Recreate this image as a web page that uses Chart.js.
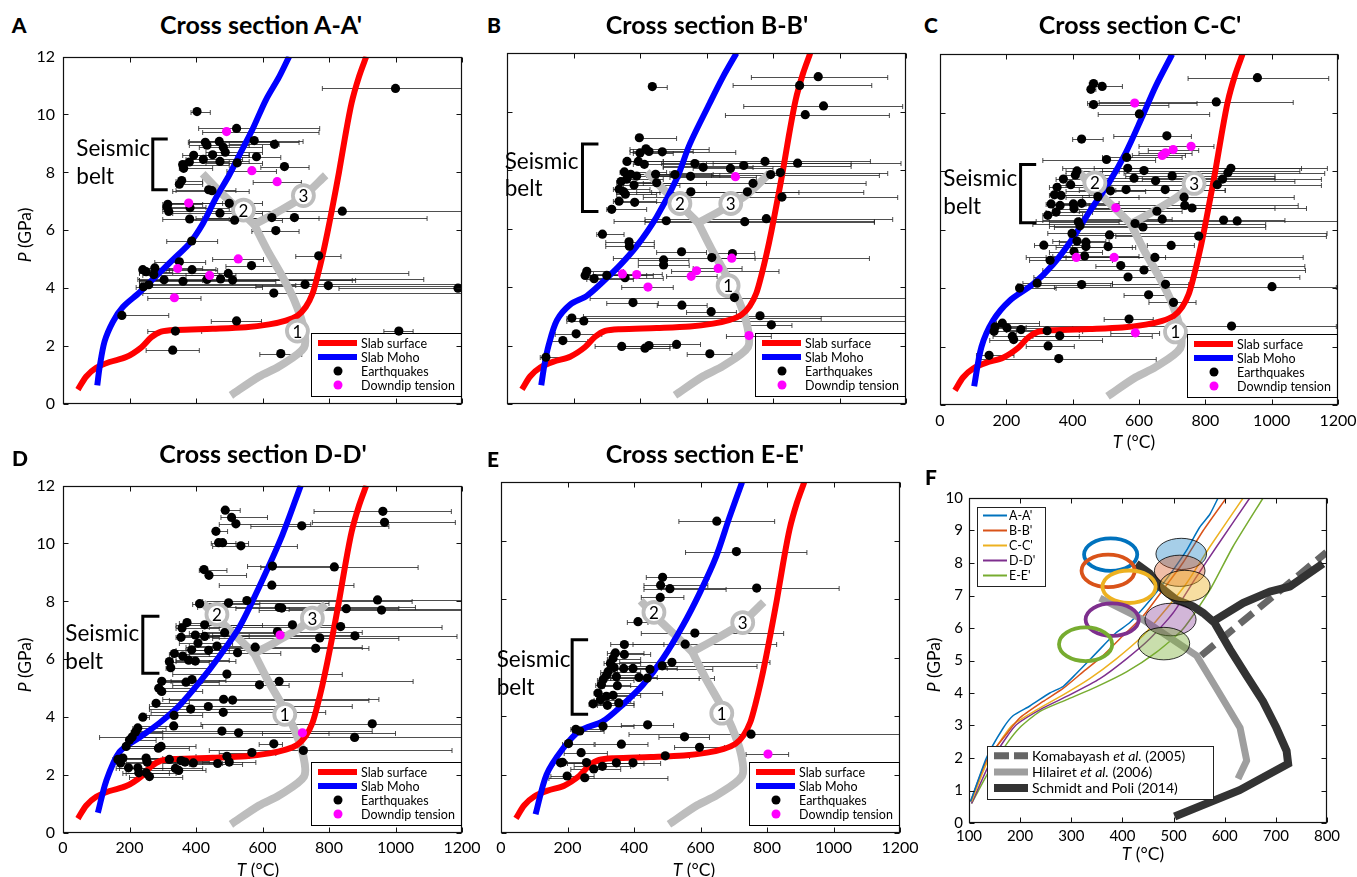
<!DOCTYPE html>
<html><head><meta charset="utf-8">
<script src="https://cdn.jsdelivr.net/npm/chart.js@4.4.1/dist/chart.umd.min.js"></script>
<style>
html,body{margin:0;padding:0;background:#fff;}
body{width:1357px;height:877px;overflow:hidden;position:relative;font-family:Lato,'DejaVu Sans',sans-serif;color:#000;}
canvas{position:absolute;}
.t{position:absolute;white-space:nowrap;line-height:1;transform:translate(-50%,-50%);}
.ttl{font-weight:bold;font-size:25px;}
.let{font-weight:900;font-size:21px;}
.ax{font-size:17.5px;}
.rot{transform:translate(-50%,-50%) rotate(-90deg);}
</style></head>
<body>
<canvas id="cA"></canvas><canvas id="cB"></canvas><canvas id="cC"></canvas>
<canvas id="cD"></canvas><canvas id="cE"></canvas><canvas id="cF"></canvas>

<div class="t let" style="left:19px;top:24px">A</div>
<div class="t let" style="left:494px;top:24px">B</div>
<div class="t let" style="left:931px;top:24px">C</div>
<div class="t let" style="left:20px;top:457px">D</div>
<div class="t let" style="left:493px;top:458px">E</div>
<div class="t let" style="left:931px;top:476px">F</div>

<div class="t ttl" style="left:261px;top:24px">Cross section A-A'</div>
<div class="t ttl" style="left:707px;top:24px">Cross section B-B'</div>
<div class="t ttl" style="left:1140px;top:24px">Cross section C-C'</div>
<div class="t ttl" style="left:263px;top:453px">Cross section D-D'</div>
<div class="t ttl" style="left:705px;top:453px">Cross section E-E'</div>

<div class="t ax rot" style="left:25px;top:235px"><i>P</i> (GPa)</div>
<div class="t ax rot" style="left:25px;top:665px"><i>P</i> (GPa)</div>
<div class="t ax rot" style="left:934px;top:665px"><i>P</i> (GPa)</div>
<div class="t ax" style="left:1134px;top:442px"><i>T</i> (°C)</div>
<div class="t ax" style="left:258px;top:870px"><i>T</i> (°C)</div>
<div class="t ax" style="left:694px;top:870px"><i>T</i> (°C)</div>
<div class="t ax" style="left:1143px;top:854px"><i>T</i> (°C)</div>

<script>
// ---------- tick labels ----------
const tempTicks = [0,200,400,600,800,1000,1200];
const presTicks = [0,2,4,6,8,10,12];
const fTempTicks = [100,200,300,400,500,600,700,800];
const fPresTicks = [0,1,2,3,4,5,6,7,8,9,10];

// ---------- shared curves (T, P) ----------
const slabSurface = [[45,0.5],[70,0.95],[100,1.25],[140,1.45],[190,1.62],[235,1.95],[265,2.3],[295,2.5],[340,2.56],[450,2.6],[550,2.65],[620,2.75],[670,2.88],[705,3.05],[730,3.35],[750,3.8],[765,4.4],[780,5.1],[795,5.9],[812,6.9],[830,8.0],[848,9.2],[868,10.4],[890,11.3],[912,12]];
const greyMain = [[505,0.3],[590,0.95],[650,1.3],[725,1.95],[722,2.7],[695,3.6],[660,4.4],[615,5.3],[575,6.2]];
const greyBranch2 = [[575,6.2],[530,6.7],[470,7.35],[420,7.95]];
const greyBranch3 = [[575,6.2],[640,6.6],[720,7.15],[790,7.9]];

// ---------- Slab Moho per section ----------
const mohoA = [[103,0.64],[110,1.26],[125,2.16],[150,2.84],[180,3.35],[230,3.85],[290,4.53],[340,5.09],[380,5.54],[420,6.22],[460,7.12],[500,7.91],[530,8.59],[570,9.49],[610,10.5],[650,11.3],[680,12]];
const mohoB = [[103,0.64],[112,1.3],[125,2.0],[150,2.86],[190,3.4],[240,3.7],[290,4.2],[340,4.75],[390,5.4],[450,6.4],[510,7.7],[550,8.9],[610,10.3],[650,11.2],[690,12]];
const mohoC = [[103,0.64],[125,1.99],[160,2.89],[210,3.57],[280,4.13],[340,4.8],[400,5.7],[450,6.6],[510,7.62],[560,8.63],[610,9.87],[650,10.9],[700,12]];
const mohoD = [[105,0.7],[130,1.8],[170,2.8],[230,3.3],[290,3.8],[350,4.4],[410,5.2],[470,6.1],[530,7.1],[590,8.5],[660,10.3],[715,12]];
const mohoE = [[104,0.64],[137,2.0],[187,2.9],[237,3.5],[307,3.83],[367,4.4],[427,5.07],[487,5.97],[547,7.1],[597,8.2],[647,9.46],[687,10.8],[725,12]];

// ---------- numbered labels on grey curves (T, P, label) ----------
const circA = [[705,2.52,'1'],[543,6.7,'2'],[723,7.2,'3']];
const circB = [[665,4.05,'1'],[520,6.86,'2'],[673,6.86,'3']];
const circC = [[710,2.5,'1'],[467,7.6,'2'],[766,7.58,'3']];
const circD = [[667,4.1,'1'],[463,7.55,'2'],[750,7.42,'3']];
const circE = [[664,4.1,'1'],[460,7.55,'2'],[727,7.2,'3']];

// ---------- earthquakes [T, P, Tmin, Tmax] ----------
const eqA = [[1000,10.9,780,1260],[403,10.1,385,443],[522,9.52,408,772],[428,9.04,377,710],[470,9.07,380,640],[575,9.1,420,722],[636,8.97,500,650],[433,8.94,380,560],[482,8.87,410,600],[393,8.59,360,560],[450,8.61,400,560],[488,8.7,430,600],[582,8.54,520,655],[422,8.45,370,540],[380,8.36,365,500],[360,8.27,350,500],[472,8.38,420,560],[524,8.33,430,600],[666,8.2,595,740],[363,8.14,350,450],[357,7.72,340,420],[350,7.59,340,420],[438,7.4,340,520],[448,7.37,330,560],[315,6.9,300,420],[500,6.93,320,600],[382,6.78,320,500],[313,6.8,300,430],[318,6.65,300,520],[840,6.66,510,1260],[472,6.59,330,600],[628,6.44,400,1095],[696,6.44,420,770],[381,6.39,300,500],[516,6.35,380,660],[640,5.99,568,710],[387,5.63,312,465],[769,5.12,700,836],[350,4.91,276,429],[567,4.78,490,645],[276,4.7,240,420],[240,4.64,230,320],[250,4.57,230,330],[388,4.64,310,465],[273,4.47,240,470],[497,4.51,230,1040],[304,4.29,230,420],[361,4.24,230,640],[433,4.3,230,870],[474,4.32,225,1085],[510,4.28,230,880],[242,4.05,220,600],[258,4.12,230,700],[728,4.13,235,1260],[798,4.09,580,1260],[1188,4.0,830,1260],[634,3.83,240,1200],[177,3.06,160,318],[522,2.87,446,597],[338,2.52,255,417],[1010,2.52,965,1053],[330,1.86,250,410],[655,1.74,592,718]];
const dtA = [[492,9.41,420,770],[568,8.06,493,642],[644,7.68,572,717],[378,6.94,310,480],[527,5.01,450,603],[345,4.68,270,460],[441,4.44,370,520],[335,3.67,255,415]];

const eqB = [[936,11.2,735,1145],[880,10.9,680,1097],[437,10.86,430,482],[952,10.2,712,1190],[897,9.9,657,1150],[398,9.11,390,510],[418,8.73,370,608],[400,8.59,380,500],[427,8.64,380,560],[467,8.63,370,688],[361,8.3,350,470],[395,8.3,370,560],[413,8.2,380,600],[565,8.23,465,1035],[590,8.1,470,740],[672,8.06,560,800],[712,8.16,470,1035],[776,8.3,470,1093],[874,8.24,620,1185],[353,7.94,340,480],[372,7.86,350,500],[390,7.8,360,520],[447,7.86,380,620],[505,7.85,420,640],[552,7.79,440,680],[793,7.85,615,1120],[822,7.92,490,1145],[343,7.61,330,460],[360,7.69,340,470],[382,7.49,350,520],[450,7.57,380,600],[740,7.55,410,1080],[337,7.35,320,430],[356,7.18,330,450],[350,7.27,330,460],[553,7.26,390,878],[723,7.26,435,1073],[827,7.08,410,1175],[337,6.94,320,450],[384,6.9,340,520],[315,6.66,300,420],[479,6.27,322,1105],[715,6.24,415,1105],[780,6.34,415,1160],[287,5.81,270,352],[367,5.55,297,443],[368,5.4,297,443],[525,5.21,450,600],[678,5.15,610,745],[616,5.01,320,1090],[471,4.93,395,547],[471,4.76,395,548],[240,4.54,230,350],[235,4.4,230,340],[262,4.29,240,380],[300,4.4,250,420],[355,4.32,250,470],[684,3.64,250,1200],[379,3.47,300,455],[526,3.38,452,602],[614,3.16,540,690],[195,2.94,180,945],[231,2.84,180,1200],[761,3.02,230,1200],[795,2.71,728,857],[208,2.4,145,285],[168,2.17,130,243],[345,1.97,265,490],[415,1.91,345,490],[427,2.0,350,500],[510,2.04,435,582],[610,1.72,542,677],[117,1.6,100,187]];
const dtB = [[687,7.78,490,750],[676,4.99,610,746],[635,4.64,560,707],[570,4.56,495,818],[554,4.37,480,632],[347,4.45,260,467],[390,4.43,310,440],[424,4.0,345,500],[728,2.34,660,795]];

const eqC = [[957,11.2,748,1172],[463,11.0,450,480],[489,10.9,460,550],[455,10.8,445,470],[833,10.37,480,1065],[463,10.28,450,690],[601,9.96,477,813],[427,9.1,400,492],[684,9.21,524,758],[502,8.4,310,650],[563,8.47,490,730],[566,8.1,370,1090],[615,8.02,490,1085],[413,8.01,380,540],[408,7.87,380,520],[372,7.73,350,480],[585,7.76,490,1010],[650,7.67,500,1070],[700,7.84,560,1010],[877,8.1,465,1168],[868,7.95,555,1160],[852,7.73,610,1150],[836,7.54,380,1150],[394,7.54,360,500],[353,7.45,330,460],[514,7.33,380,620],[561,7.37,420,860],[679,7.37,530,860],[476,7.13,380,600],[345,7.19,330,450],[365,7.17,340,480],[736,7.11,430,1068],[738,6.83,450,1080],[760,6.74,460,1105],[335,6.88,320,440],[362,6.83,330,470],[402,6.88,340,520],[427,6.9,360,540],[404,6.72,340,520],[325,6.49,310,430],[350,6.6,320,460],[654,6.63,420,730],[670,6.36,420,700],[855,6.33,310,1040],[896,6.3,290,1200],[588,6.21,280,982],[417,6.27,330,540],[422,6.13,330,620],[612,6.09,345,982],[398,5.87,325,1167],[511,5.82,390,600],[780,5.78,530,1165],[313,5.47,285,430],[413,5.61,340,500],[440,5.57,360,510],[440,5.42,350,590],[507,5.42,400,580],[697,5.46,625,767],[404,5.25,330,490],[332,4.95,270,520],[436,5.1,340,600],[648,5.05,320,1095],[545,4.77,470,1100],[615,4.62,310,1102],[567,4.38,283,1085],[293,4.17,250,520],[240,4.0,230,350],[427,4.12,235,515],[680,4.13,520,750],[1001,4.05,345,1195],[629,3.77,555,698],[704,3.51,630,772],[570,2.94,495,643],[879,2.7,175,1195],[188,2.8,170,300],[166,2.67,150,260],[202,2.64,170,400],[244,2.58,200,420],[163,2.52,150,250],[323,2.54,230,430],[361,2.37,280,640],[218,2.35,160,420],[222,2.24,150,490],[326,2.02,260,405],[148,1.7,110,223],[358,1.59,110,652]];
const dtC = [[587,10.33,445,775],[757,8.85,600,826],[703,8.74,628,780],[680,8.63,600,760],[670,8.54,580,740],[530,6.75,450,1010],[411,5.05,260,520],[525,5.05,380,680],[589,2.47,515,662]];

const eqD = [[488,11.15,480,533],[507,10.9,475,615],[520,10.68,470,745],[718,10.61,565,980],[962,11.11,755,1168],[967,10.73,750,1180],[460,10.42,450,495],[468,10.03,446,558],[480,10.03,460,520],[535,9.92,450,705],[424,9.1,410,493],[439,8.9,430,552],[630,9.22,555,815],[816,9.19,595,1068],[628,8.56,470,875],[411,7.92,390,592],[498,7.95,400,800],[553,8.03,420,1050],[946,8.05,570,1200],[650,7.79,405,1060],[658,7.77,520,1010],[852,7.75,680,1200],[958,7.7,590,1200],[373,7.27,350,480],[358,7.08,340,470],[426,7.19,340,600],[690,7.19,430,815],[835,7.13,440,1140],[645,6.96,420,900],[355,6.76,340,470],[398,6.84,350,520],[426,6.79,360,560],[486,6.92,380,650],[406,6.56,350,510],[772,6.74,450,1010],[878,6.81,440,1185],[463,6.46,380,560],[387,6.33,340,500],[438,6.31,370,560],[578,6.42,370,900],[760,6.38,460,920],[335,6.2,320,440],[525,6.23,380,655],[360,6.11,330,470],[320,5.92,310,440],[378,5.97,340,500],[398,5.94,340,520],[324,5.71,310,440],[493,5.49,330,840],[297,5.24,290,420],[370,5.21,300,470],[388,5.3,300,490],[650,5.24,325,1053],[288,5.0,280,400],[297,4.89,285,420],[591,5.12,330,680],[280,4.48,270,380],[483,4.62,300,950],[510,4.59,320,920],[384,4.28,260,690],[437,4.37,260,870],[482,4.17,265,790],[334,4.06,250,420],[240,4.0,230,260],[333,3.7,225,420],[930,3.77,415,1200],[225,3.63,210,310],[218,3.49,205,300],[478,3.52,210,930],[528,3.46,220,1000],[208,3.32,200,300],[200,3.21,195,280],[877,3.3,110,1200],[190,2.99,180,280],[287,2.93,180,380],[295,2.99,200,400],[634,3.08,590,660],[568,2.78,470,640],[723,2.85,440,1170],[165,2.54,150,260],[180,2.59,160,300],[250,2.59,190,340],[320,2.54,240,400],[355,2.5,260,440],[493,2.65,400,560],[173,2.42,150,260],[253,2.45,190,340],[367,2.45,280,460],[392,2.42,300,480],[465,2.4,380,540],[500,2.45,420,580],[197,2.25,160,300],[225,2.25,170,330],[338,2.23,250,420],[348,2.16,260,430],[228,2.08,180,320],[250,2.08,190,340],[260,1.95,200,360]];
const dtD = [[653,6.84,450,880],[720,3.46,600,800]];

const eqE = [[649,10.67,535,823],[708,9.63,555,920],[486,8.75,437,625],[480,8.48,430,622],[508,8.36,430,677],[769,8.38,482,1017],[479,8.06,422,550],[412,7.23,380,442],[583,6.84,422,850],[554,6.46,397,829],[371,6.45,330,490],[344,6.16,320,430],[371,6.11,330,450],[337,5.97,320,420],[329,5.8,310,420],[514,5.84,357,809],[485,5.72,370,770],[340,5.66,320,450],[369,5.63,330,500],[397,5.63,340,530],[448,5.6,350,637],[322,5.52,300,420],[317,5.39,300,410],[347,5.35,310,470],[415,5.32,330,596],[440,5.3,330,642],[307,5.24,290,400],[302,5.07,285,390],[350,5.04,310,420],[292,4.79,280,486],[317,4.68,290,400],[337,4.71,300,420],[299,4.56,280,390],[277,4.42,265,330],[354,4.45,300,400],[320,4.37,290,400],[225,3.55,210,300],[237,3.49,215,310],[307,3.65,260,400],[441,3.7,362,519],[752,3.38,385,1200],[552,3.29,475,627],[203,3.06,185,280],[362,3.04,283,442],[597,2.93,522,672],[241,2.75,190,320],[494,2.64,417,567],[185,2.42,160,270],[179,2.4,160,260],[257,2.41,200,340],[347,2.4,260,430],[397,2.4,300,480],[305,2.28,220,390],[279,2.19,210,360],[199,1.95,150,280],[252,1.89,144,502]];
const dtE = [[803,2.7,737,865]];

// ---------- panel F ----------
const fSections = ["A-A'","B-B'","C-C'","D-D'","E-E'"];
const fA = [[103,0.66],[134,2.0],[166,2.9],[186,3.3],[219,3.6],[258,4.0],[284,4.2],[310,4.6],[350,5.25],[388,5.86],[414,6.16],[444,6.67],[470,7.17],[499,7.78],[525,8.38],[551,9.1],[571,9.5],[587,10]];
const fB = [[103,0.66],[134,1.92],[173,2.73],[199,3.23],[245,3.74],[284,4.14],[323,4.65],[362,5.15],[401,5.76],[440,6.36],[479,7.17],[518,8.0],[558,9.0],[603,10]];
const fC = [[105,0.66],[134,1.82],[166,2.63],[186,3.03],[232,3.48],[284,3.94],[336,4.44],[388,5.05],[440,5.76],[479,6.46],[525,7.37],[571,8.5],[636,10]];
const fD = [[105,0.6],[140,1.82],[173,2.63],[193,3.03],[245,3.54],[297,3.94],[356,4.44],[408,5.05],[453,5.66],[499,6.46],[545,7.58],[584,8.5],[649,10]];
const fE = [[105,0.6],[140,1.62],[173,2.42],[199,2.93],[238,3.43],[290,3.79],[349,4.19],[408,4.65],[466,5.25],[518,5.96],[571,7.17],[616,8.5],[675,10]];
const komabayashi = [[554,5.15],[799,8.33]];
const hilairet = [[356,6.92],[440,6.26],[545,5.15],[584,4.14],[630,2.93],[643,1.92],[626,1.36]];
const schmidtMain = [[502,0.2],[629,1.01],[724,1.82],[721,2.22],[701,2.93],[675,3.74],[642,4.55],[610,5.35],[580,6.16],[558,6.46],[538,6.67],[505,6.87],[473,7.27],[453,7.68],[427,7.98]];
const schmidtBranch = [[580,6.16],[583,6.26],[636,6.77],[688,7.12],[727,7.27],[792,7.98]];
// ellipses: centre T, centre P, half-width (°C), half-height (GPa)
const ellOpen = [[377,8.26,52,0.5],[372,7.76,52,0.5],[413,7.27,52,0.5],[380,6.26,52,0.5],[328,5.5,52,0.52]];
const ellFilled = [[515,8.28,49.5,0.48],[512,7.76,49.5,0.48],[522,7.29,49.5,0.485],[494,6.26,50,0.5],[481,5.52,50.5,0.5]];

// ---------- styles ----------
const fColors = ['#0072BD','#D95319','#EDB120','#7E2F8E','#77AC30'];
const fFills = ['rgba(0,114,189,0.35)','rgba(217,83,25,0.38)','rgba(237,177,32,0.42)','rgba(126,47,142,0.35)','rgba(119,172,48,0.40)'];
const GREY = '#bdbdbd';
const FONT = 'Lato';

const DECOR = {};

function pts(arr){ return arr.map(r => ({x:r[0], y:r[1]})); }
function barPts(arr){ return arr.map(r => ({x:r[0], y:r[1], xMin:r[2], xMax:r[3]})); }
function lineDs(arr, color, width, order, extra){
  return Object.assign({data:pts(arr), showLine:true, borderColor:color, backgroundColor:color, borderWidth:width,
    pointRadius:0, pointHoverRadius:0, tension:0.3, order:order, borderCapStyle:'butt', borderJoinStyle:'round', fill:false}, extra||{});
}
function axis(min,max,ticks,show,size,pad,fitKey,fitVal){
  return {type:'linear',min:min,max:max,
    afterBuildTicks:s=>{ s.ticks = ticks.map(v=>({value:v})); },
    ticks:{display:show,font:{family:FONT,size:size},color:'#000',padding:pad,maxRotation:0,minRotation:0,autoSkip:false,callback:v=>String(v)},
    grid:{display:false,drawTicks:false}, border:{display:false},
    afterFit:s=>{ s[fitKey]=fitVal; }
  };
}

function drawBars(chart, ds){
  const xs=chart.scales.x, ys=chart.scales.y, ctx=chart.ctx, a=chart.chartArea;
  ctx.save(); ctx.beginPath(); ctx.rect(a.left,a.top,a.right-a.left,a.bottom-a.top); ctx.clip();
  ctx.strokeStyle='rgba(35,35,35,0.8)'; ctx.lineWidth=1;
  ds.data.forEach(d=>{
    const y=Math.round(ys.getPixelForValue(d.y))+0.5;
    const x1=xs.getPixelForValue(d.xMin), x2=xs.getPixelForValue(d.xMax);
    ctx.beginPath();
    ctx.moveTo(x1,y); ctx.lineTo(x2,y);
    ctx.moveTo(x1,y-2.5); ctx.lineTo(x1,y+2.5);
    ctx.moveTo(x2,y-2.5); ctx.lineTo(x2,y+2.5);
    ctx.stroke();
  });
  ctx.restore();
}
function drawFrame(chart, xt, yt){
  const ctx=chart.ctx, a=chart.chartArea, xs=chart.scales.x, ys=chart.scales.y;
  ctx.save(); ctx.strokeStyle='#111'; ctx.lineWidth=1.2;
  const L=Math.round(a.left)+0.5, R=Math.round(a.right)-0.5, T=Math.round(a.top)+0.5, B=Math.round(a.bottom)-0.5;
  ctx.strokeRect(L,T,R-L,B-T);
  ctx.lineWidth=1;
  ctx.beginPath();
  xt.forEach(v=>{ const x=Math.round(xs.getPixelForValue(v))+0.5; ctx.moveTo(x,B); ctx.lineTo(x,B-5); ctx.moveTo(x,T); ctx.lineTo(x,T+5); });
  yt.forEach(v=>{ const y=Math.round(ys.getPixelForValue(v))+0.5; ctx.moveTo(L,y); ctx.lineTo(L+5,y); ctx.moveTo(R,y); ctx.lineTo(R-5,y); });
  ctx.stroke(); ctx.restore();
}
function sectionLegendBox(a){ return {x:a.right-151, y:a.bottom-71, w:151, h:63}; }

const decorPlugin = {
  id:'decor',
  beforeDatasetsDraw(chart){
    const d=DECOR[chart.canvas.id]; if(!d) return;
    const ctx=chart.ctx;
    if(d.kind==='section'){
      const b=sectionLegendBox(chart.chartArea);
      ctx.save(); ctx.fillStyle='#fff'; ctx.fillRect(b.x,b.y,b.w,b.h); ctx.restore();
      chart.data.datasets.forEach(ds=>{ if(ds.bars) drawBars(chart, ds); });
    }
  },
  afterDatasetDraw(chart,args){
    const ds=chart.data.datasets[args.index];
    if(ds.numbers){
      const ctx=chart.ctx; ctx.save();
      ctx.font='17px '+FONT; ctx.fillStyle='#000'; ctx.textAlign='center'; ctx.textBaseline='middle';
      args.meta.data.forEach((el,i)=>ctx.fillText(ds.numbers[i], el.x, el.y+1));
      ctx.restore();
    }
  },
  afterDatasetsDraw(chart){
    const d=DECOR[chart.canvas.id]; if(!d || d.kind!=='F') return;
    const ctx=chart.ctx, xs=chart.scales.x, ys=chart.scales.y;
    const ell=(e)=>{ const cx=xs.getPixelForValue(e[0]), cy=ys.getPixelForValue(e[1]);
      const rx=Math.abs(xs.getPixelForValue(e[0]+e[2])-cx), ry=Math.abs(ys.getPixelForValue(e[1]+e[3])-cy);
      ctx.beginPath(); ctx.ellipse(cx,cy,rx,ry,0,0,Math.PI*2); };
    ctx.save();
    ellOpen.forEach((e,i)=>{ ell(e); ctx.strokeStyle=fColors[i]; ctx.lineWidth=3.8; ctx.stroke(); });
    ellFilled.forEach((e,i)=>{ ell(e); ctx.fillStyle=fFills[i]; ctx.fill(); ctx.strokeStyle='#000'; ctx.lineWidth=0.8; ctx.stroke(); });
    ctx.restore();
  },
  afterDraw(chart){
    const d=DECOR[chart.canvas.id]; if(!d) return;
    const ctx=chart.ctx, a=chart.chartArea, xs=chart.scales.x, ys=chart.scales.y;
    if(d.kind==='section'){
      drawFrame(chart, tempTicks, presTicks);
      // legend
      const b=sectionLegendBox(a);
      ctx.save();
      ctx.strokeStyle='#000'; ctx.lineWidth=1; ctx.strokeRect(Math.round(b.x)+0.5, Math.round(b.y)+0.5, b.w-1, b.h);
      ctx.lineWidth=6; ctx.lineCap='butt';
      ctx.strokeStyle='#ff0000'; ctx.beginPath(); ctx.moveTo(b.x+7,b.y+10); ctx.lineTo(b.x+46,b.y+10); ctx.stroke();
      ctx.strokeStyle='#0000ff'; ctx.beginPath(); ctx.moveTo(b.x+7,b.y+24); ctx.lineTo(b.x+46,b.y+24); ctx.stroke();
      ctx.fillStyle='#000'; ctx.beginPath(); ctx.arc(b.x+27,b.y+38,4.5,0,Math.PI*2); ctx.fill();
      ctx.fillStyle='#ff00ff'; ctx.beginPath(); ctx.arc(b.x+27,b.y+52,4.5,0,Math.PI*2); ctx.fill();
      ctx.fillStyle='#000'; ctx.font='12.5px '+FONT; ctx.textAlign='left'; ctx.textBaseline='middle';
      ['Slab surface','Slab Moho','Earthquakes','Downdip tension'].forEach((t,i)=>ctx.fillText(t,b.x+50,b.y+10+14*i+0.5));
      // seismic belt bracket
      const k=d.bracket;
      const bx=xs.getPixelForValue(k.bx), ax=xs.getPixelForValue(k.ax), ty=ys.getPixelForValue(k.top), by=ys.getPixelForValue(k.bot);
      ctx.strokeStyle='#000'; ctx.lineWidth=3; ctx.lineJoin='miter';
      ctx.beginPath(); ctx.moveTo(ax,ty); ctx.lineTo(bx,ty); ctx.lineTo(bx,by); ctx.lineTo(ax,by); ctx.stroke();
      ctx.font='22.5px '+FONT; ctx.textBaseline='middle';
      const tx=xs.getPixelForValue(k.tx);
      ctx.fillText('Seismic', tx, ys.getPixelForValue(k.ty1));
      ctx.fillText('belt', tx, ys.getPixelForValue(k.ty2));
      ctx.restore();
    } else if(d.kind==='F'){
      drawFrame(chart, fTempTicks, fPresTicks);
      ctx.save();
      // section legend
      const x0=a.left+8, y0=a.top+9;
      ctx.fillStyle='#fff'; ctx.fillRect(x0,y0,68,79);
      ctx.strokeStyle='#222'; ctx.lineWidth=1; ctx.strokeRect(Math.round(x0)+0.5,Math.round(y0)+0.5,68,79);
      ctx.font='12.5px '+FONT; ctx.textAlign='left'; ctx.textBaseline='middle';
      fSections.forEach((s,i)=>{ const y=y0+8.5+15*i;
        ctx.strokeStyle=fColors[i]; ctx.lineWidth=2; ctx.beginPath(); ctx.moveTo(x0+6,y); ctx.lineTo(x0+30,y); ctx.stroke();
        ctx.fillStyle='#000'; ctx.fillText(s, x0+32, y+0.5); });
      // reference legend
      const x1=a.left+18, y1=a.bottom-77;
      ctx.fillStyle='#fff'; ctx.fillRect(x1,y1,226,53);
      ctx.strokeStyle='#222'; ctx.lineWidth=1; ctx.strokeRect(Math.round(x1)+0.5,Math.round(y1)+0.5,226,53);
      const rows=[
        {c:'#666',w:7,dash:[15,5],parts:[['Komabayash ',''],['et al.','italic '],[' (2005)','']]},
        {c:'#9e9e9e',w:7,dash:[],parts:[['Hilairet ',''],['et al.','italic '],[' (2006)','']]},
        {c:'#333',w:8,dash:[],parts:[['Schmidt and Poli (2014)','']]}
      ];
      rows.forEach((r,i)=>{ const y=y1+9.7+16.2*i;
        ctx.strokeStyle=r.c; ctx.lineWidth=r.w; ctx.setLineDash(r.dash); ctx.lineCap='butt';
        ctx.beginPath(); ctx.moveTo(x1+7,y); ctx.lineTo(x1+41,y); ctx.stroke(); ctx.setLineDash([]);
        let x=x1+45; ctx.fillStyle='#000';
        r.parts.forEach(p=>{ ctx.font=p[1]+'14px '+FONT; ctx.fillText(p[0],x,y+0.5); x+=ctx.measureText(p[0]).width; });
      });
      ctx.restore();
    }
  }
};
Chart.register(decorPlugin);

const SECTIONS = {
  A:{geom:{L:63,T:49,R:462,B:404}, eq:eqA, dt:dtA, moho:mohoA, circ:circA, showX:false, showY:true, bracket:{bx:270,ax:315,top:9.15,bot:7.4,tx:40,ty1:8.81,ty2:7.85}},
  B:{geom:{L:507,T:49,R:906,B:404}, eq:eqB, dt:dtB, moho:mohoB, circ:circB, showX:false, showY:false, bracket:{bx:227,ax:275,top:8.9,bot:6.59,tx:-7,ty1:8.28,ty2:7.38}},
  C:{geom:{L:940,T:50,R:1338,B:405}, eq:eqC, dt:dtC, moho:mohoC, circ:circC, showX:true, showY:false, bracket:{bx:243,ax:290,top:8.23,bot:6.24,tx:10,ty1:7.73,ty2:6.8}},
  D:{geom:{L:63,T:478,R:462,B:833}, eq:eqD, dt:dtD, moho:mohoD, circ:circD, showX:true, showY:true, bracket:{bx:240,ax:290,top:7.49,bot:5.52,tx:7,ty1:6.87,ty2:5.92}},
  E:{geom:{L:501,T:478,R:900,B:833}, eq:eqE, dt:dtE, moho:mohoE, circ:circE, showX:true, showY:false, bracket:{bx:214,ax:262,top:6.61,bot:4.06,tx:-13,ty1:5.92,ty2:4.98}}
};

function placeCanvas(cv,g){
  cv.width=g.R-g.L+95; cv.height=g.B-g.T+50;
  cv.style.left=(g.L-70)+'px'; cv.style.top=(g.T-10)+'px';
  cv.style.width=cv.width+'px'; cv.style.height=cv.height+'px';
}
const baseOpts = (xAxis,yAxis)=>({responsive:false, animation:false, events:[], devicePixelRatio:1,
  layout:{padding:{left:0,top:10,right:25,bottom:0}},
  plugins:{legend:{display:false},tooltip:{enabled:false}},
  scales:{x:xAxis,y:yAxis}});

Object.keys(SECTIONS).forEach(key=>{
  const p=SECTIONS[key]; const cv=document.getElementById('c'+key);
  placeCanvas(cv,p.geom);
  DECOR['c'+key]={kind:'section', bracket:p.bracket};
  new Chart(cv,{type:'scatter',
    data:{datasets:[
      {label:'Downdip tension', data:barPts(p.dt), bars:true, backgroundColor:'#ff00ff', borderWidth:0, pointRadius:4.6, order:0},
      {label:'Earthquakes', data:barPts(p.eq), bars:true, backgroundColor:'#000', borderWidth:0, pointRadius:4.6, order:1},
      {label:'labels', data:pts(p.circ), numbers:p.circ.map(c=>c[2]), backgroundColor:'#fff', borderColor:GREY, borderWidth:3.8, pointRadius:10.5, order:2},
      lineDs(p.moho,'#0000ff',6,3,{label:'Slab Moho'}),
      lineDs(slabSurface,'#ff0000',6,4,{label:'Slab surface'}),
      lineDs(greyMain,GREY,8,5),
      lineDs(greyBranch2,GREY,8,5),
      lineDs(greyBranch3,GREY,8,5)
    ]},
    options:baseOpts(
      axis(0,1200,tempTicks,p.showX,16,(key==='C'?6:5),'height',40),
      axis(0,12,presTicks,p.showY,16,8,'width',70))
  });
});

// panel F
(function(){
  const cv=document.getElementById('cF');
  placeCanvas(cv,{L:969,T:493,R:1327,B:823});
  DECOR.cF={kind:'F'};
  const ds=[];
  ds.push(lineDs(schmidtMain,'#333',8,1,{tension:0,borderJoinStyle:'miter'}));
  ds.push(lineDs(schmidtBranch,'#333',8,1,{tension:0}));
  ds.push(lineDs(hilairet,'#9e9e9e',7,2,{tension:0}));
  ds.push(lineDs(komabayashi,'#666',7,2,{tension:0,borderDash:[17,8]}));
  [fA,fB,fC,fD,fE].forEach((arr,i)=>ds.push(lineDs(arr,fColors[i],1.5,3,{tension:0.2,label:fSections[i]})));
  new Chart(cv,{type:'scatter',data:{datasets:ds},
    options:baseOpts(
      axis(100,800,fTempTicks,true,15,4,'height',40),
      axis(0,10,fPresTicks,true,15,6,'width',70))
  });
})();
</script>
</body></html>
